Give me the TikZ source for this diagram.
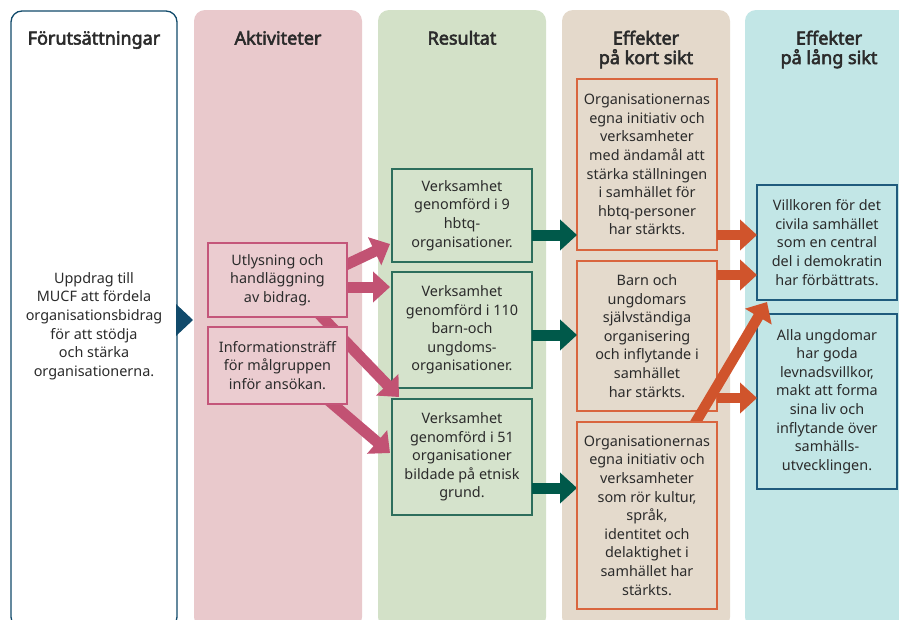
\documentclass[tikz,border=0pt]{standalone}
\usepackage{fontspec}
\setmainfont{Noto Sans}[BoldFont={Noto Sans},BoldFeatures={FakeBold=3}]
\usetikzlibrary{arrows.meta}
\pgfdeclarelayer{bg}
\pgfdeclarelayer{arr}
\pgfsetlayers{bg,arr,main}
\definecolor{txt}{HTML}{2B2B2B}
\definecolor{leftb}{HTML}{114A6B}
\definecolor{pinkcol}{HTML}{E9C9CC}
\definecolor{pinkbox}{HTML}{EBCCD0}
\definecolor{pinkb}{HTML}{C4567A}
\definecolor{pinkarr}{HTML}{C25273}
\definecolor{greencol}{HTML}{D3E1C8}
\definecolor{greenbox}{HTML}{D5E3CC}
\definecolor{greenb}{HTML}{2D6E5C}
\definecolor{greenarr}{HTML}{00594A}
\definecolor{beigecol}{HTML}{E4D9CB}
\definecolor{beigebox}{HTML}{E4DACC}
\definecolor{orangeb}{HTML}{D9653E}
\definecolor{orangearr}{HTML}{D0542C}
\definecolor{cyancol}{HTML}{C2E6E6}
\definecolor{cyanb}{HTML}{1F5B7D}
\newcommand{\bodyfont}{\fontsize{14.4}{18.6}\selectfont}
\newcommand{\headfont}{\fontsize{18}{20}\selectfont\bfseries}
\begin{document}
\begin{tikzpicture}[x=1pt,y=-1pt,
  colbg/.style={rounded corners=11pt},
  box/.style={draw, line width=1.2pt, minimum width=140pt, inner sep=0pt,
    align=center, font=\bodyfont, text=txt},
  pbox/.style={box, draw=pinkb, fill=pinkbox, minimum width=139pt},
  gbox/.style={box, draw=greenb, fill=greenbox},
  obox/.style={box, draw=orangeb, fill=beigebox},
  cbox/.style={box, draw=cyanb, fill=cyancol},
  head/.style={font=\headfont, text=txt, align=center, inner sep=0pt, anchor=base},
  parr/.style={draw=pinkarr, line width=11pt, -{Triangle[width=30pt,length=17pt]}},
  garr/.style={draw=greenarr, line width=11pt, -{Triangle[width=30pt,length=17pt]}},
  oarr/.style={draw=orangearr, line width=10.5pt, -{Triangle[width=30pt,length=17pt]}}
]
\useasboundingbox (0,0) rectangle (899,619);
\begin{pgfonlayer}{bg}
  \fill[white] (0,0) rectangle (899,619);
  \draw[leftb, line width=1.3pt, fill=white, colbg] (11,11) rectangle (177,628);
  \fill[leftb] (176,304) -- (193,320) -- (176,336) -- cycle;
  \fill[pinkcol, colbg] (194,10) rectangle (362,628);
  \fill[greencol, colbg] (378,10) rectangle (546,628);
  \fill[beigecol, colbg] (562,10) rectangle (730,628);
  \fill[cyancol, colbg] (745,10) rectangle (913,628);
  \node[gbox, minimum height=93pt] (g1) at (462,215.5)
    {Verksamhet\\genomförd i 9\\hbtq-\\organisationer.};
  \node[gbox, minimum height=116pt] (g2) at (462,330)
    {Verksamhet\\genomförd i 110\\barn-och\\ungdoms-\\organisationer.};
  \node[gbox, minimum height=116pt] (g3) at (462,457)
    {Verksamhet\\genomförd i 51\\organisationer\\bildade på etnisk\\grund.};
  \node[obox, minimum height=171pt] (o1) at (647,164.5)
    {Organisationernas\\egna initiativ och\\verksamheter\\med ändamål att\\stärka ställningen\\i samhället för\\hbtq-personer\\har stärkts.};
  \node[obox, minimum height=150pt] (o2) at (647,336)
    {Barn och\\ungdomars\\självständiga\\organisering\\och inflytande i\\samhället\\har stärkts.};
  \node[cbox, minimum height=115pt] (c1) at (827,242.5)
    {Villkoren för det\\civila samhället\\som en central\\del i demokratin\\har förbättrats.};
  \node[cbox, minimum height=175pt] (c2) at (827,401.5)
    {Alla ungdomar\\har goda\\levnadsvillkor,\\makt att forma\\sina liv och\\inflytande över\\samhälls-\\utvecklingen.};
\end{pgfonlayer}
\node[pbox, minimum height=74pt] (utl) at (277.5,280)
  {Utlysning och\\handläggning\\av bidrag.};
\node[pbox, minimum height=77pt] (info) at (277.5,365.5)
  {Informationsträff\\för målgruppen\\inför ansökan.};
\node[obox, minimum height=187pt] (o3) at (647,515.5)
  {Organisationernas\\egna initiativ och\\verksamheter\\som rör kultur,\\språk,\\identitet och\\delaktighet i\\samhället har\\stärkts.};
\node[font=\bodyfont, text=txt, align=center, inner sep=0pt] (upp) at (94,326)
  {Uppdrag till\\MUCF att fördela\\organisationsbidrag\\för att stödja\\och stärka\\organisationerna.};
\begin{pgfonlayer}{arr}
  \draw[parr] ([shift={(57.5,-10)}]utl.center) -- ([shift={(-72,28.5)}]g1.center);
  \draw[parr] ([shift={(60,7)}]utl.center) -- ([shift={(-72,-43)}]g2.center);
  \draw[parr] ([shift={(32.5,24.5)}]utl.center) -- ([shift={(-63,-60)}]g3.center);
  \draw[parr] ([shift={(43.5,28.5)}]info.center) -- ([shift={(-72,-4)}]g3.center);
  \draw[garr] ([shift={(70,19.5)}]g1.center) -- ([shift={(-70,70.5)}]o1.center);
  \draw[garr] ([shift={(70,5)}]g2.center) -- ([shift={(-70,-1)}]o2.center);
  \draw[garr] ([shift={(70,31)}]g3.center) -- ([shift={(-70,-27.5)}]o3.center);
  \draw[oarr] ([shift={(70,70.5)}]o1.center) -- ([shift={(-70,-7.5)}]c1.center);
  \draw[oarr] ([shift={(70,-61)}]o2.center) -- ([shift={(-70,32.5)}]c1.center);
  \draw[oarr] ([shift={(70,62)}]o2.center) -- ([shift={(-70,-3.5)}]c2.center);
  \draw[oarr] ([shift={(44,-85.5)}]o3.center) -- ([shift={(-60,59.5)}]c1.center);
\end{pgfonlayer}
\node[head] (h1) at (94,44.5) {Förutsättningar};
\node[head] (h2) at (278,44.5) {Aktiviteter};
\node[head] (h3) at (462,44.5) {Resultat};
\node[head] (h4a) at (646,44.5) {Effekter};
\node[head] (h4b) at (646,64) {på kort sikt};
\node[head] (h5a) at (829,44.5) {Effekter};
\node[head] (h5b) at (829,64) {på lång sikt};
\end{tikzpicture}
\end{document}
